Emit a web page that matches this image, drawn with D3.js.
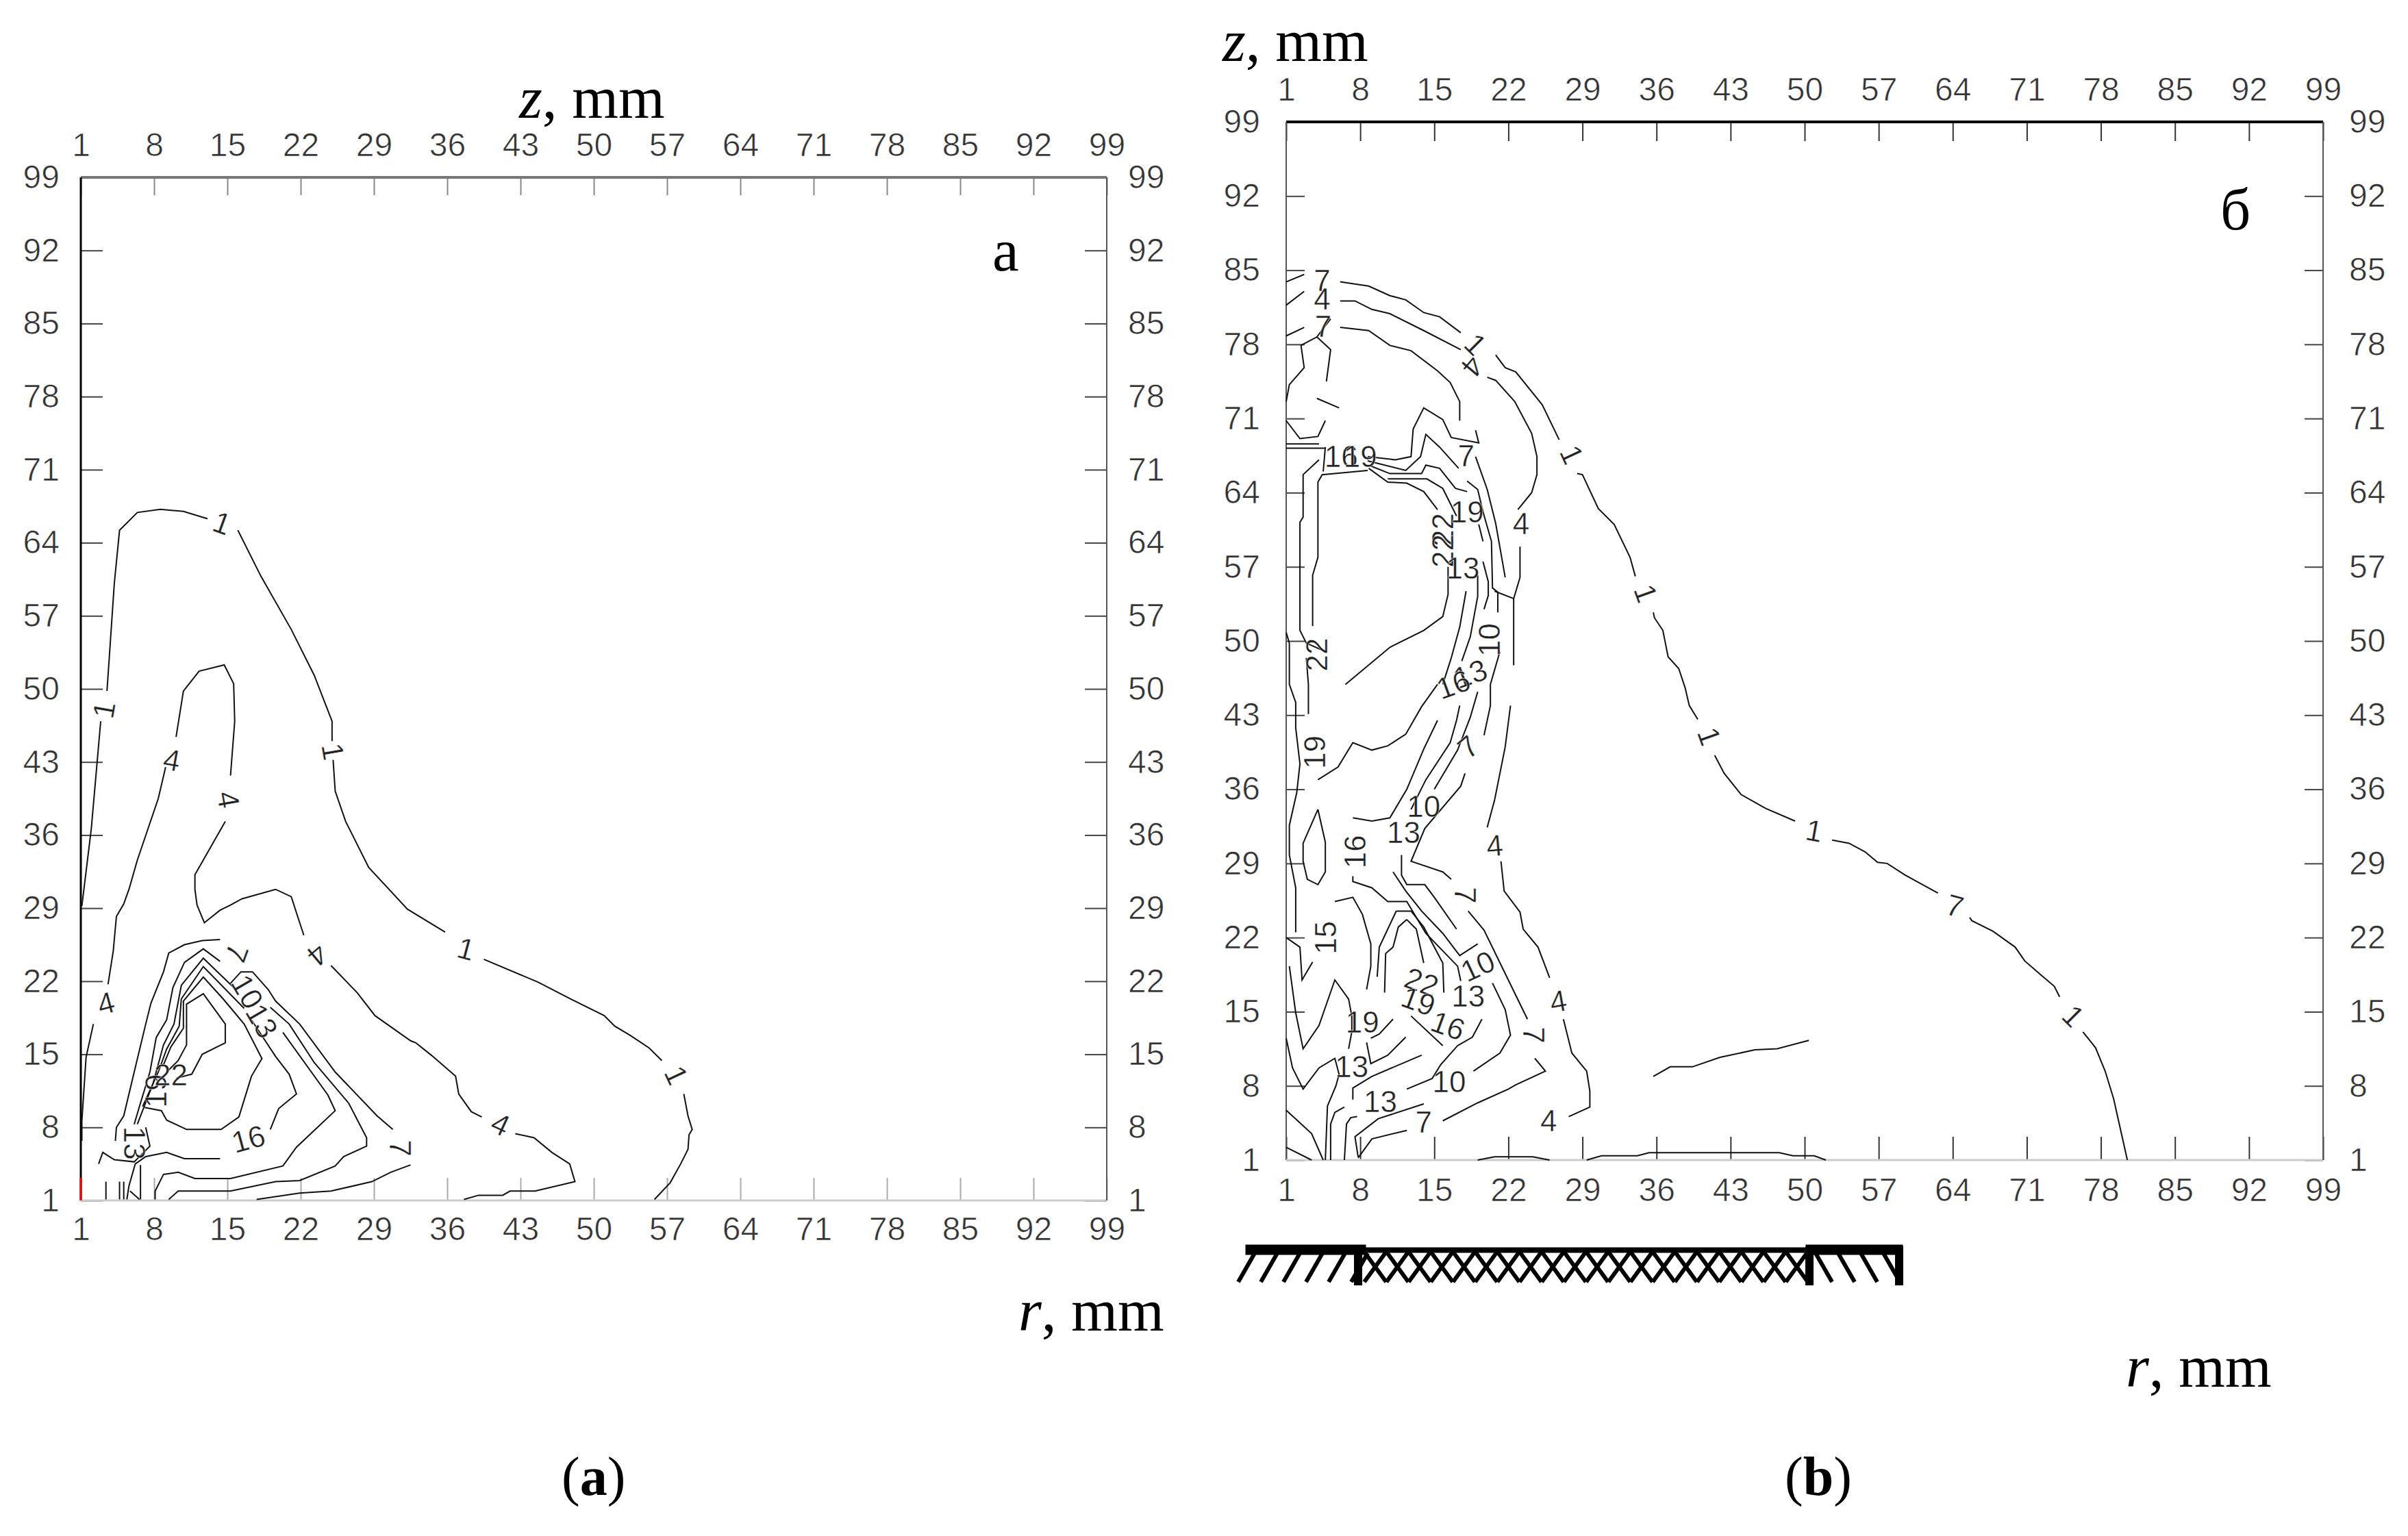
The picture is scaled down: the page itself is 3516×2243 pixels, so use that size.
<!DOCTYPE html>
<html>
<head>
<meta charset="utf-8">
<script src="https://cdn.jsdelivr.net/npm/d3@7"></script>
<style>
html, body { margin: 0; padding: 0; background: #fff; }
svg { display: block; }
</style>
</head>
<body>
<script>
// tick labels, same on every axis of both panels
var tickVals = [1, 8, 15, 22, 29, 36, 43, 50, 57, 64, 71, 78, 85, 92, 99];

// panel a contours, [r, z] in mm, one array per level, broken where the labels sit
var a1 = [
  [[1.1,29.2],[2,36.6],[2.9,46.9]],
  [[3.5,49.8],[3.8,54.2],[4.2,60.1],[4.7,65.2],[6.4,66.9],[8.6,67.2],[10.8,67],[13.1,66.3]],
  [[16,65.2],[18.2,60.8],[21.1,55.7],[23.3,51.3],[25,46.9],[25,45]],
  [[25.1,43.2],[25.3,40.2],[26.3,37.3],[28.5,32.9],[32.2,28.9],[35.8,26.7]],
  [[39.5,24.1],[44.7,21.9],[47.8,20.3],[51,18.7],[52,17.7],[53.5,16.8],[55.3,15.6],[56.5,14.4]],
  [[58.6,11.2],[59,9.1],[59.4,7.8],[59.1,7.3],[59,5.9],[58.3,4.5],[57.3,2.7],[55.8,1.1]]
];
var a4 = [
  [[1.1,6.7],[1.1,8.6],[1.5,14.7],[2.2,17.9]],
  [[3.6,21.7],[4.1,24.9],[4.4,28.2],[5.1,29.4],[5.6,30.8],[6.4,33.6],[8.4,39.5],[9.1,42.5]],
  [[10.1,45.4],[10.8,49.8],[12.3,51.7],[14.7,52.3],[15.6,50.5],[15.7,46.9],[15.3,41.7]],
  [[14.8,37.3],[11.9,32.2],[11.9,30.8],[12.1,29.3],[12.8,27.6],[14.3,28.8],[15.3,29.3],[16.4,29.9],[19.6,30.8],[21.1,30.1],[22.3,26.4]],
  [[24.9,23.5],[27.4,20.9],[29.1,18.7],[32.5,16.3],[33,16.1],[34.5,14.9],[36.8,12.9],[37.1,11.2],[38.3,9.5],[39.3,9]],
  [[42.5,7.4],[44.3,7],[46,5.6],[47.7,4.5],[48.2,2.8],[44.4,1.9],[42,1.9],[41.3,1.5],[39,1.5],[37.6,1.1]]
];
var a7 = [
  [[4.3,6.7],[4.4,8],[5.1,9.1],[6.1,13.3],[7.2,17.9],[7.7,19.9],[8.9,22.9],[9.4,24.7],[10.9,25.5],[12.6,25.9],[14.3,26]],
  [[15.3,21.8],[16.3,22.9],[17.4,22.9],[18.9,21.2],[19.6,20.1],[21.9,17.9],[25.3,13.3],[29.3,9.1],[30.8,7.8]],
  [[32.5,4.4],[30.6,3.7],[28.8,2.8],[24.9,1.9],[21.9,1.7],[17.8,1.1]]
];
var a10 = [
  [[14.3,23.9],[12.7,25.1],[10.9,23.8],[9.8,21.4],[9.2,18.3],[8.2,16.6],[7.6,13.3],[6.6,10],[6.1,8.3]],
  [[19.1,19.5],[20.9,17.9],[23.3,14.2],[26.6,10.3],[28.3,7],[28.3,6.2],[26.1,5.2],[25.3,4.3],[21.9,2.9],[19.6,2.8],[15.3,1.9],[10.3,1.9],[9.4,1.1]]
];
var a13 = [
  [[15.6,21.4],[12.7,24.2],[10.6,21.6],[9.9,17.9],[8.9,15.9],[7.9,12.2],[6.4,8.3]],
  [[20.3,17.1],[24.6,11.1],[25.3,9.6],[23.4,7.8],[21.6,6.1],[20.3,4.3],[15.3,3.1],[11.9,3.1],[10.3,3.7],[8.9,3.5],[8.1,1.9],[8.1,1.1]]
];
var a16 = [
  [[16.6,19.4],[12.7,23.4],[10.6,20.3],[10.4,17.7],[9.2,15.5],[8.4,13.3],[6.9,10]],
  [[17.3,18.3],[19.6,14.8],[20.9,13.1],[21.6,11.2],[19.9,9.8],[19.1,7.8]],
  [[14.3,5],[10.9,5],[9.2,5.6],[7.2,5.2],[6.2,4.5],[5.6,2.4],[5.4,1.1]]
];
var a19 = [
  [[8.9,14],[9.6,15.7],[10.8,17.5],[10.8,20.1],[12.7,22.4],[14.6,20.3],[16.6,17.9],[18.3,14.6],[17.3,12.9],[16.1,9],[14.4,7.8],[11.1,7.8],[9.2,8.7],[8.7,9.6],[7.1,9.9]]
];
var a22 = [
  [[10.1,12.7],[11.6,13.1],[12.6,15],[14.8,16.1],[14.8,17.9],[12.7,20.8],[11.1,19.8],[11.1,15.9],[10.3,14.4],[9.2,13.3]]
];
var aLow = [
  [[2.7,4.5],[3.1,5.6],[4.2,4.9],[6.1,4.7],[7.6,6.2],[7.2,8]],
  [[3.4,2.8],[3.4,1.1]], [[4.7,2.8],[4.7,1.1]], [[5.1,2.8],[5.1,1.1]], [[5.7,1.9],[6.6,1.1]], [[6.7,4.4],[6.7,1.1]]
];

// panel b contours
var b1 = [
  [[1,83.9],[2.7,84.6]],
  [[6.1,83.9],[7.5,83.7],[8.8,83.5],[10.8,82.6],[12.3,82.2],[14,81],[15.5,80.6],[17.5,79.1]],
  [[20.8,77],[21.7,75.8],[22.7,75.4],[25.2,72.3],[26.8,69]],
  [[28.5,65.8],[29,65.7],[30.5,62.5],[32,61],[33.5,57.9],[34,56.1]],
  [[35.7,52.7],[35.8,52.2],[36.6,51],[37.1,48.5],[38.1,47.4],[38.7,45.6],[39.1,43.9],[39.9,42.6]],
  [[41.5,39.2],[42.4,37.5],[44,35.5],[46.3,34.2],[49.1,33]],
  [[52.6,31.2],[54.2,30.9],[55.7,30.1],[56.9,29.1],[57.8,29],[59.5,27.9],[62.6,26.2]],
  [[65.6,23.9],[65.8,23.6],[67.8,22.6],[69.9,21.1],[70.8,19.8],[72.3,18.5],[73.6,17.4],[74.1,16.4]],
  [[76.3,13.1],[77.5,11.6],[78.4,9.4],[79.2,6.8],[80.5,1]],
  [[19.1,1],[20.7,1.3],[24.3,1.3],[25.9,1]],
  [[29.4,1],[30.8,1.4],[34.2,1.4],[35.3,1.7],[47.6,1.7],[48.9,1.4],[50.9,1.4],[52,1]]
];
var b4 = [
  [[1,81.7],[2.7,83]],
  [[6.1,82.1],[7.5,82.1],[9.1,81.3],[10.8,80.9],[14,79.3],[17.5,77.5]],
  [[20,74.9],[20.8,74.6],[22.6,72.6],[24.2,69.6],[24.7,67.4],[24.7,65.7],[24.2,64],[22.9,62.4]],
  [[23.1,58.9],[23.1,56],[22.5,54],[22.5,47.7]],
  [[22.2,43.9],[21.7,40],[20.7,35],[20,32.4]],
  [[21.3,29.2],[21.6,26.4],[23.1,24.4],[23.4,22.8],[24.8,21.1],[25.9,18.2]],
  [[27.2,14.3],[28,11.1],[29.4,9.4],[29.7,7.5],[29.7,6],[27.7,5.1]],
  [[35.7,8.9],[37.3,9.8],[39.4,9.8],[42,10.7],[45.3,11.4],[47.4,11.5],[50.4,12.3]]
];
var b7 = [
  [[1,78.8],[2.7,79.6]],
  [[6.1,79.6],[8.8,79.3],[10.8,77.9],[12.8,77.4],[15.3,75.5],[16.5,74.4],[17.4,72.6],[17.4,70.8]],
  [[5.2,80.4],[3.9,78.7],[2.4,77.9],[2.7,75.8],[1.3,74.2],[1,72.6]],
  [[3.9,78.7],[5.2,77.5],[4.8,74.5]],
  [[3.9,72.9],[6,72]],
  [[1,70.8],[2.3,69.1],[4,69.3],[4.7,70.8]],
  [[18.9,67.4],[20,64.3],[20.8,61.1],[21.7,56]],
  [[22.5,54],[20.7,54.7]],
  [[17.9,37.5],[17.5,36.3],[14.1,32.3],[12.8,29.2],[15.8,28.2],[16.6,27.5]],
  [[18.2,24.5],[19.7,22.7],[23.8,14.3]],
  [[24.5,10.6],[25.5,9.4],[22.7,8.1],[22,7.7],[19.1,6.4],[15.8,4.7]],
  [[14,6.3],[9.7,4.9],[7.5,3.2],[7.8,1.3]]
];
var b10 = [
  [[8.7,67.4],[11.3,67.1],[12.8,67.4],[13,70],[14,72],[15.8,70.9],[16.6,69.2],[19.2,68.7],[18.9,69.9]],
  [[18.1,65.1],[19.1,64.3],[19.6,62.2],[20.4,59.4],[20.5,55],[21,54.6],[21,52.7]],
  [[21.2,49],[20.3,45.9],[20.3,43.9],[19.7,41.1]],
  [[11.9,29.8],[11.9,27.9],[12.4,27],[14.1,27],[15,25.8],[17.1,22.8]],
  [[12.4,7.7],[14.8,8.7],[15.6,10],[17.2,11.8],[18.6,12.6],[19.5,14.3]],
  [[18.7,9.4],[21.2,11.1],[22.2,12.8],[21.7,15.2],[20.5,17.7]]
];
var b13 = [
  [[8.7,67],[12.3,66.1],[13.7,67.4],[14.2,69.5],[15.5,68.3],[17.3,66.3]],
  [[19.2,61],[19.6,59.4]],
  [[19.6,57.5],[20.1,55.6],[20.1,54.3],[19.7,53]],
  [[19.1,45.2],[18.4,42.8],[17.2,39.7],[15,36]],
  [[11.1,28.2],[12.3,26.4],[13.8,24.5],[15.8,22.4],[17.4,20.3],[19.1,21.4]],
  [[7.3,6.7],[7.3,7.8],[9.1,8.9],[13.8,10.9]]
];
var b16 = [
  [[8.8,66.6],[10.8,65.8],[13.8,65.8],[14.2,66.6],[15.5,66.3],[17,64.4],[18.1,64.1]],
  [[19.1,56.2],[19.1,54.2],[18.4,50.4],[17.6,48.1]],
  [[10.6,65.3],[14.3,65.3],[15.8,64.4],[17.1,61.8]],
  [[17.4,43.9],[17.1,42.5],[16.5,40.4],[14.2,36.9],[12.8,34.1]],
  [[7.3,27.8],[7.3,27.3],[9.1,26.7],[10.6,25.4],[12.4,25.4],[14.2,22.4],[17.2,19.3],[17.5,17.9]],
  [[8.6,12.1],[9,10.1],[10.6,10.9],[12.3,12.6]],
  [[5.2,1],[5.2,4.4],[5.6,5.5],[6.5,6]],
  [[6.5,1],[6.7,4.4],[7.1,5],[7.7,5.1]],
  [[7.8,1.2],[9.1,3],[12.4,3.8]]
];
var b19 = [
  [[8.8,66.3],[10.6,65],[12.4,64.9],[14,64.1],[15.3,62.4]],
  [[18,54.7],[17.4,51.3],[16.6,48.4],[15.8,45.9]],
  [[15.3,42.5],[14,39.8],[12.4,36],[10.8,33.3],[9.1,33],[7.3,33.3]],
  [[11.4,24.5],[12.8,24.5],[14,23],[15.8,19.6],[15.9,16.8]],
  [[11.4,24.5],[9.8,21.1],[9.6,18.3]],
  [[9,12.5],[9.8,12.9],[11.1,14.3]],
  [[5.6,25.4],[7.3,25.8],[8.2,24.2],[9,21.4],[9,19.3],[8.6,17.1]]
];
var b22 = [
  [[16.3,57],[16.3,54.4],[15.8,52.3],[14,51],[10.8,49.4],[6.6,45.9]],
  [[15.3,45.9],[13.8,43.8],[12.3,41.2],[10.6,40.1],[9.1,39.7],[7.3,40.4],[5.9,38.1],[4,36.9]],
  [[8.7,66.1],[4.4,65.7],[4,65],[4,57.9],[3.5,56.2],[3.5,51.4]],
  [[12.4,23.7],[13.3,22.8],[14,19.6]],
  [[12.4,23.7],[11.6,23],[11.1,21.1],[10.4,20.5],[10.3,16.8]],
  [[12.8,14.6],[15.8,11.8]]
];
var bLeft = [
  [[4.7,68.3],[4.5,66]],
  [[4.1,67.1],[2.6,65.7],[2.6,61.7],[2.3,61.2],[2.3,51],[2.9,49.8],[4.7,49]],
  [[1,68.6],[4.1,68.6]],
  [[1,68.2],[4.7,68.2]],
  [[1,50.8],[1.3,49.8],[1.3,45.9],[1.9,44.2],[1.9,41.8],[2.3,38.4],[2,35.7],[1.3,32.6],[1.3,29.8],[1.9,26.7],[1.9,22.5]],
  [[2.9,48.4],[3.1,45.9],[3.1,43.1]],
  [[4,34.1],[4.7,31],[4.7,28.2],[4,27],[3,27.5],[2.6,29.2],[2.6,30.9],[4,34.1]],
  [[1,22],[2.3,21.1],[2.5,18],[3.5,19.7]],
  [[1.3,19.3],[1.9,14.9],[2.6,11.5],[4.1,13.7],[5.6,18],[6.9,16.2],[7.2,14.6],[7.2,13.1],[6.9,11.5]],
  [[1,12.5],[1.6,9.7],[2.6,7.7],[4.1,9.7],[5.6,10.6],[6,9.1],[5.7,8],[4.9,6.1],[4.7,1]],
  [[1,5.7],[3.4,3.5],[4.5,1]],
  [[1,2.2],[3.4,1]]
];

// contour labels: text, r, z, and the tilt of each in a separate list
var labelsA = [
  ["1",3.2,48],["1",14.5,65.9],["1",25.1,44],["1",37.8,25.1],["1",57.9,13],
  ["4",3.4,19.9],["4",9.7,43.2],["4",15.1,39.4],["4",23.6,24.5],["4",41.1,8.3],
  ["7",15.9,24.7],["7",31.5,6],["10",16.9,21],["13",18.3,18.2],["16",17,6.9],
  ["19",8.2,11.5],["22",9.6,13],["13",6.1,6.5]
];
var anglesA = [-80,20,80,15,65,-15,10,80,140,25,110,90,60,60,-15,-90,0,90];

var labelsB = [
  ["7",4.4,84],["4",4.4,82.3],["7",4.5,79.7],["1",18.9,78],["4",18.6,75.9],["1",28,67.6],
  ["4",23.2,61.1],["7",18,67.5],["16",6.2,67.4],["19",8,67.4],["22",15.8,60.5],["22",15.8,58.5],
  ["19",18.1,62.2],["13",17.7,56.9],["10",20.2,50.1],["13",18.4,46.9],["16",16.8,45.9],
  ["22",3.9,48.7],["1",35,54.5],["1",41,41],["1",50.9,32.1],["7",64.2,25],["1",75.4,14.6],
  ["19",3.7,39.5],["16",7.5,30.1],["15",4.7,22],["10",14,34.4],["13",12.1,31.9],["7",17.9,26],
  ["10",19.1,19.3],["22",13.8,17.8],["19",13.5,16],["16",16.3,13.7],["19",8.2,14],
  ["13",9.9,6.5],["10",16.4,8.4],["7",14,4.6],["4",25.8,4.7],["4",20.7,30.7],["4",26.7,16],
  ["7",24.4,12.8],["13",18.2,16.5],["13",7.2,9.8],["7",18.2,40]
];
var anglesB = [
  0,0,0,45,130,65,0,0,0,0,-90,-90,0,0,-90,-20,-20,-90,70,70,10,15,45,
  -90,-90,-90,0,0,90,-25,20,20,20,0,0,0,0,0,-5,-10,90,0,0,-40
];

var svg = d3.select("body").append("svg")
    .attr("width", 3516)
    .attr("height", 2243);

var line = d3.line();
var tickFont = "'Liberation Sans Narrow', 'Liberation Sans', sans-serif";

function styleAxis(g, col) {
    g.select(".domain").remove();
    g.selectAll("line").attr("stroke", col).attr("stroke-width", 2);
    g.selectAll("text")
        .attr("font-family", tickFont)
        .attr("font-size", 48)
        .attr("fill", "#333")
        .attr("stroke", "#fff")
        .attr("stroke-width", 0.7);
}

function drawPanel(p) {
    var x = d3.scaleLinear().domain([1, 99]).range([p.left, p.right]);
    var y = d3.scaleLinear().domain([1, 99]).range([p.bottom, p.top]);
    var g = svg.append("g");

    // the four axes, ticks pointing inwards
    g.append("g").attr("transform", "translate(0," + p.top + ")")
        .call(d3.axisTop(x).tickValues(tickVals).tickFormat(d3.format("d")).tickSizeInner(-p.topTick).tickSizeOuter(0).tickPadding(p.topPad))
        .call(styleAxis, p.topTickCol);
    g.append("g").attr("transform", "translate(0," + p.bottom + ")")
        .call(d3.axisBottom(x).tickValues(tickVals).tickFormat(d3.format("d")).tickSizeInner(-p.botTick).tickSizeOuter(0).tickPadding(p.botPad))
        .call(styleAxis, p.botTickCol);
    g.append("g").attr("transform", "translate(" + p.left + ",0)")
        .call(d3.axisLeft(y).tickValues(tickVals).tickFormat(d3.format("d")).tickSizeInner(-p.sideTick).tickSizeOuter(0).tickPadding(p.sidePad))
        .call(styleAxis, "#444");
    g.append("g").attr("transform", "translate(" + p.right + ",0)")
        .call(d3.axisRight(y).tickValues(tickVals).tickFormat(d3.format("d")).tickSizeInner(-p.sideTick).tickSizeOuter(0).tickPadding(p.sidePad))
        .call(styleAxis, "#444");

    // frame lines, each side has its own weight in the scan
    p.frame.forEach(function(f) {
        g.append("line")
            .attr("x1", f[0] == "r" ? p.right : p.left)
            .attr("x2", f[0] == "l" ? p.left : p.right)
            .attr("y1", f[0] == "b" ? p.bottom : p.top)
            .attr("y2", f[0] == "t" ? p.top : p.bottom)
            .attr("stroke", f[1])
            .attr("stroke-width", f[2]);
    });

    g.append("g").selectAll("path").data(p.contours).enter().append("path")
        .attr("d", function(d) { return line(d.map(function(c) { return [x(c[0]), y(c[1])]; })); })
        .attr("fill", "none")
        .attr("stroke", "#111")
        .attr("stroke-width", 2);

    g.append("g").selectAll("text").data(p.labels).enter().append("text")
        .attr("transform", function(d, i) {
            return "translate(" + x(d[1]) + "," + y(d[2]) + ") rotate(" + p.angles[i] + ")";
        })
        .attr("text-anchor", "middle")
        .attr("dy", "0.35em")
        .attr("font-family", tickFont)
        .attr("font-size", 44)
        .attr("fill", "#222")
        .attr("stroke", "#fff")
        .attr("stroke-width", 0.5)
        .text(function(d) { return d[0]; });
}

drawPanel({
    left: 118, right: 1616, top: 259, bottom: 1753,
    topTick: 26, botTick: 33, sideTick: 32,
    topPad: 31, botPad: 24, sidePad: 31,
    topTickCol: "#888", botTickCol: "#aaa",
    frame: [["t", "#777", 4], ["l", "#000", 3], ["b", "#ccc", 3], ["r", "#555", 2]],
    contours: [].concat(a1, a4, a7, a10, a13, a16, a19, a22, aLow),
    labels: labelsA, angles: anglesA
});

drawPanel({
    left: 1878, right: 3392, top: 178, bottom: 1694,
    topTick: 28, botTick: 34, sideTick: 27,
    topPad: 31, botPad: 26, sidePad: 38,
    topTickCol: "#333", botTickCol: "#333",
    frame: [["t", "#000", 4], ["l", "#555", 2], ["b", "#ccc", 3], ["r", "#555", 2]],
    contours: [].concat(b1, b4, b7, b10, b13, b16, b19, b22, bLeft),
    labels: labelsB, angles: anglesB
});

// red stub at the origin of panel a
svg.append("line").attr("x1", 118).attr("x2", 118).attr("y1", 1720).attr("y2", 1753)
    .attr("stroke", "#f00").attr("stroke-width", 3);

// titles
function serif(x, y, size) {
    return svg.append("text").attr("x", x).attr("y", y)
        .attr("font-family", "'Liberation Serif', serif")
        .attr("font-size", size)
        .attr("fill", "#000");
}
function axisName(x, y, letter) {
    var t = serif(x, y, 87);
    t.append("tspan").attr("font-style", "italic").text(letter);
    t.append("tspan").text(", mm");
}
axisName(758, 172, "z");
axisName(1785, 89, "z");
axisName(1487, 1943, "r");
axisName(3104, 2025, "r");
serif(1449, 395, 87).text("a");
serif(3242, 335, 87).text("б");

function caption(x, letter) {
    var t = serif(x, 2183, 80);
    t.append("tspan").text("(");
    t.append("tspan").attr("font-weight", "bold").text(letter);
    t.append("tspan").text(")");
}
caption(820, "a");
caption(2606, "b");

// electrode sketch under panel b
var sketch = svg.append("g").attr("stroke", "#000").attr("fill", "#000");
sketch.append("rect").attr("x", 1819).attr("y", 1818).attr("width", 175).attr("height", 14);
sketch.append("rect").attr("x", 1994).attr("y", 1822).attr("width", 643).attr("height", 7);
sketch.append("rect").attr("x", 2637).attr("y", 1818).attr("width", 141).attr("height", 14);
[1983, 2642, 2773].forEach(function(px) {
    sketch.append("line").attr("x1", px).attr("x2", px).attr("y1", 1820).attr("y2", 1877).attr("stroke-width", 12);
});
d3.range(6).forEach(function(i) {
    sketch.append("line").attr("x1", 1832 + i * 33).attr("x2", 1808 + i * 33)
        .attr("y1", 1830).attr("y2", 1872).attr("stroke-width", 6);
});
d3.range(4).forEach(function(i) {
    sketch.append("line").attr("x1", 2651 + i * 33).attr("x2", 2675 + i * 33)
        .attr("y1", 1830).attr("y2", 1872).attr("stroke-width", 6);
});
d3.range(20).forEach(function(i) {
    var x0 = 1992 + i * 32.4;
    sketch.append("line").attr("x1", x0).attr("x2", x0 + 32)
        .attr("y1", 1828).attr("y2", 1872).attr("stroke-width", 6);
    sketch.append("line").attr("x1", x0 + 32).attr("x2", x0)
        .attr("y1", 1828).attr("y2", 1872).attr("stroke-width", 6);
});
</script>
</body>
</html>
